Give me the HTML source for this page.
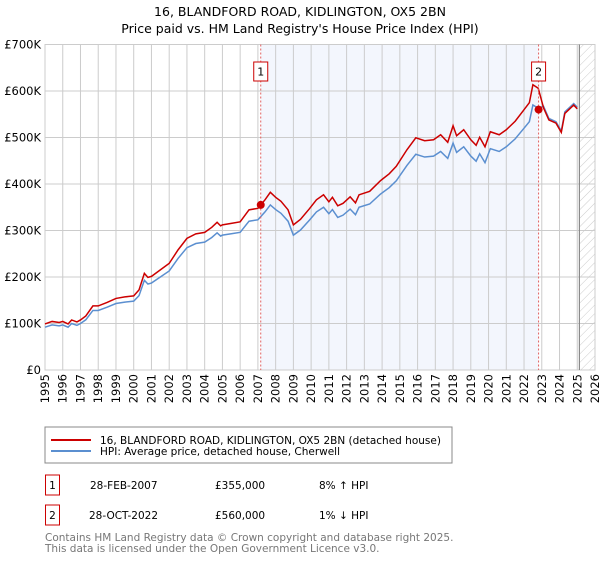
<!DOCTYPE html>
<html><head><meta charset="utf-8"><style>
body{margin:0;background:#fff;font-family:"Liberation Sans","DejaVu Sans",sans-serif;}
svg text{font-family:"DejaVu Sans","Liberation Sans",sans-serif;}
</style></head><body>
<svg width="600" height="560" xmlns="http://www.w3.org/2000/svg">
<defs><pattern id="hatch" width="6" height="6" patternUnits="userSpaceOnUse" patternTransform="rotate(45)"><line x1="0" y1="0" x2="0" y2="6" stroke="#ccc" stroke-width="1"/></pattern></defs>
<text x="300" y="16" text-anchor="middle" font-size="12.5" fill="#000">16, BLANDFORD ROAD, KIDLINGTON, OX5 2BN</text>
<text x="300" y="33" text-anchor="middle" font-size="12.5" fill="#000">Price paid vs. HM Land Registry's House Price Index (HPI)</text>
<g id="plot"></g>
<rect x="45" y="427" width="407" height="36" fill="#fff" stroke="#888"/>
<line x1="51" y1="440" x2="91" y2="440" stroke="#cc0000" stroke-width="2"/>
<text x="100" y="444" font-size="10.5">16, BLANDFORD ROAD, KIDLINGTON, OX5 2BN (detached house)</text>
<line x1="51" y1="451" x2="91" y2="451" stroke="#5b8fd0" stroke-width="2"/>
<text x="100" y="455" font-size="10.5">HPI: Average price, detached house, Cherwell</text>
<g>
<rect x="45.5" y="475" width="14" height="20" fill="#fff" stroke="#cc0000"/><text x="52.5" y="489" text-anchor="middle" font-size="10.5">1</text>
<text x="90" y="489" font-size="10.5">28-FEB-2007</text><text x="215" y="489" font-size="10.5">£355,000</text><text x="319" y="489" font-size="10.5">8% ↑ HPI</text></g>
<g>
<rect x="45.5" y="505" width="14" height="20" fill="#fff" stroke="#cc0000"/><text x="52.5" y="519" text-anchor="middle" font-size="10.5">2</text>
<text x="89" y="519" font-size="10.5">28-OCT-2022</text><text x="215" y="519" font-size="10.5">£560,000</text><text x="319" y="519" font-size="10.5">1% ↓ HPI</text></g>
<text x="45" y="541" font-size="10.5" fill="#777">Contains HM Land Registry data © Crown copyright and database right 2025.</text>
<text x="45" y="552" font-size="10.5" fill="#777">This data is licensed under the Open Government Licence v3.0.</text>
</svg>
<script>
const hpiYears=[1995,1995.4,1995.8,1996,1996.3,1996.5,1996.8,1997,1997.3,1997.7,1998,1998.5,1999,1999.5,2000,2000.3,2000.6,2000.8,2001,2001.5,2002,2002.5,2003,2003.5,2004,2004.4,2004.7,2004.9,2005,2005.5,2006,2006.5,2007,2007.4,2007.7,2008,2008.3,2008.7,2009,2009.4,2009.9,2010.3,2010.7,2011,2011.2,2011.5,2011.8,2012.2,2012.5,2012.7,2013.3,2013.9,2014.4,2014.8,2015.4,2015.9,2016.4,2016.9,2017.3,2017.7,2018,2018.2,2018.6,2019,2019.3,2019.5,2019.8,2020.1,2020.6,2021,2021.5,2022,2022.3,2022.5,2022.8,2023.1,2023.4,2023.8,2024.1,2024.3,2024.8,2025.0];
const hpiValues=[92,97,95,97,92,100,96,100,108,128,128,135,143,146,148,160,193,185,187,200,213,240,263,272,275,285,295,288,290,293,296,320,323,340,355,345,337,320,290,301,322,340,350,336,345,328,333,346,334,350,357,378,392,407,440,464,458,460,470,455,488,468,480,460,449,465,446,476,470,480,497,520,534,570,563,567,541,534,514,555,573,565];
const saleYears=[2007.16,2022.82];
const salePrices=[355,560];
const yTicks=[0,100,200,300,400,500,600,700];
const yTickLabels=["£0","£100K","£200K","£300K","£400K","£500K","£600K","£700K"];
const xTicks=[1995,1996,1997,1998,1999,2000,2001,2002,2003,2004,2005,2006,2007,2008,2009,2010,2011,2012,2013,2014,2015,2016,2017,2018,2019,2020,2021,2022,2023,2024,2025,2026];
const L=45,R=595,T=44.5,B=370,dataEnd=2025.12;
const X=y=>L+(y-1995)/(2026-1995)*(R-L);
const Y=v=>B-v/700*(B-T);
const g=document.getElementById('plot');const NS='http://www.w3.org/2000/svg';
function mk(t,a,p){const e=document.createElementNS(NS,t);for(const k in a)e.setAttribute(k,a[k]);(p||g).appendChild(e);return e;}
let e;
e=mk('rect',{x:X(saleYears[0]),y:T,width:X(saleYears[1])-X(saleYears[0]),height:B-T,fill:'#eef2fc',opacity:0.7});


e=mk('rect',{x:X(dataEnd),y:T,width:R-X(dataEnd),height:B-T,fill:'url(#hatch)'});


xTicks.forEach(t=>{e=mk('line',{x1:X(t),x2:X(t),y1:T,y2:B,stroke:'#ccc','stroke-width':1});


e=mk('text',{transform:`translate(${X(t)+4},${B+4}) rotate(-90)`,'text-anchor':'end','font-size':11.5});e.textContent=t;

});
yTicks.forEach((t,i)=>{e=mk('line',{x1:L,x2:R,y1:Y(t),y2:Y(t),stroke:'#ccc','stroke-width':1});


e=mk('text',{x:L-4,y:Y(t)+4,'text-anchor':'end','font-size':11.5});e.textContent=yTickLabels[i];

});
e=mk('rect',{x:L,y:T,width:R-L,height:B-T,fill:'none',stroke:'#ccc'});


e=mk('line',{x1:X(dataEnd),x2:X(dataEnd),y1:T,y2:B,stroke:'#888','stroke-width':1.2});


function hpiAt(y){for(let i=1;i<hpiYears.length;i++){if(y<=hpiYears[i]){const f=(y-hpiYears[i-1])/(hpiYears[i]-hpiYears[i-1]);return hpiValues[i-1]+f*(hpiValues[i]-hpiValues[i-1]);}}return hpiValues[hpiValues.length-1];}
const r1=salePrices[0]/hpiAt(saleYears[0]),r2=salePrices[1]/hpiAt(saleYears[1]);
const redPts=hpiYears.map((y,i)=>[y,hpiValues[i]*(y<saleYears[1]?r1:r2)]);
e=mk('polyline',{points:hpiYears.map((y,i)=>X(y)+','+Y(hpiValues[i])).join(' '),fill:'none',stroke:'#5b8fd0','stroke-width':1.5});


e=mk('polyline',{points:redPts.map(p=>X(p[0])+','+Y(p[1])).join(' '),fill:'none',stroke:'#cc0000','stroke-width':1.5});


saleYears.forEach((s,i)=>{
e=mk('line',{x1:X(s),x2:X(s),y1:T,y2:B,stroke:'#e06060','stroke-width':1,'stroke-dasharray':'2,2'});


e=mk('circle',{cx:X(s),cy:Y(salePrices[i]),r:4,fill:'#cc0000'});


e=mk('rect',{x:X(s)-7,y:62,width:14,height:19,fill:'#fff',stroke:'#cc0000'});


e=mk('text',{x:X(s),y:75.5,'text-anchor':'middle','font-size':11});e.textContent=i+1;

});
</script>
</body></html>
